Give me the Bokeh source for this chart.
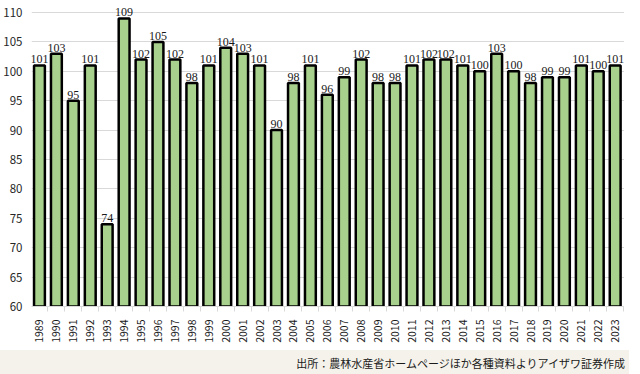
from bokeh.plotting import figure
from bokeh.models import Range1d, FixedTicker, ColumnDataSource, LabelSet, Div
from bokeh.layouts import column
from bokeh.embed import file_html
from bokeh.resources import INLINE
import math

years = [str(y) for y in range(1989, 2024)]
values = [101, 103, 95, 101, 74, 109, 102, 105, 102, 98, 101, 104, 103, 101, 90, 98, 101, 96, 99, 102,
          98, 98, 101, 102, 102, 101, 100, 103, 100, 98, 99, 99, 101, 100, 101]
y_ticks = [60, 65, 70, 75, 80, 85, 90, 95, 100, 105, 110]
source_text = "出所：農林水産省ホームページほか各種資料よりアイザワ証券作成"

FONT = "Noto Sans CJK JP"
xs = list(range(len(years)))
src = ColumnDataSource(dict(x=xs, top=values, label=[str(v) for v in values]))

p = figure(width=624, height=345, output_backend="svg", toolbar_location=None,
           x_range=Range1d(-0.47, len(years) - 0.45), y_range=Range1d(60, 111.53),
           min_border_left=24, min_border_right=0, min_border_top=3, min_border_bottom=10)
p.outline_line_color = None
p.background_fill_color = "white"
p.border_fill_color = "white"

p.vbar(x="x", top="top", bottom=60, width=0.64, source=src,
       fill_color="#a9d18e", line_color="#000000", line_width=2.5)

labels = LabelSet(x="x", y="top", text="label", source=src, text_align="center",
                  text_baseline="bottom", y_offset=2, text_font_size="12px",
                  text_font=FONT, text_color="#1a1a1a")
p.add_layout(labels)

p.xaxis.ticker = FixedTicker(ticks=xs, minor_ticks=[i - 0.5 for i in range(len(years) + 1)])
p.xaxis.major_label_overrides = {i: y for i, y in enumerate(years)}
p.xaxis.major_label_orientation = math.pi / 2
p.xaxis.major_label_text_font = FONT
p.xaxis.major_label_text_font_size = "10.5px"
p.xaxis.major_label_text_color = "#1a1a1a"
p.xaxis.major_tick_line_color = None
p.xaxis.minor_tick_line_color = "#d9d9d9"
p.xaxis.minor_tick_out = 5
p.xaxis.minor_tick_in = 0
p.xaxis.axis_line_color = "#d9d9d9"
p.xaxis.major_label_standoff = 7

p.yaxis.ticker = FixedTicker(ticks=y_ticks)
p.yaxis.axis_line_color = None
p.yaxis.major_tick_line_color = None
p.yaxis.minor_tick_line_color = None
p.yaxis.major_label_text_font = FONT
p.yaxis.major_label_text_font_size = "11.5px"
p.yaxis.major_label_text_color = "#262626"
p.yaxis.major_label_standoff = 3

p.xgrid.grid_line_color = None
p.ygrid.grid_line_color = "#d9d9d9"
p.ygrid.grid_line_width = 1

footer = Div(text=source_text, width=640, height=29,
             styles={"background-color": "#f4f2ea", "font-family": FONT, "font-size": "11px",
                     "color": "#1a1a1a", "text-align": "right", "box-sizing": "border-box",
                     "padding-right": "4px", "padding-top": "5px", "line-height": "16px",
                     "margin-left": "-8px",
                     "width": "640px", "height": "29px", "overflow": "hidden"})

layout = column(p, footer, spacing=0)
open("out.html", "w").write(file_html(layout, INLINE))
